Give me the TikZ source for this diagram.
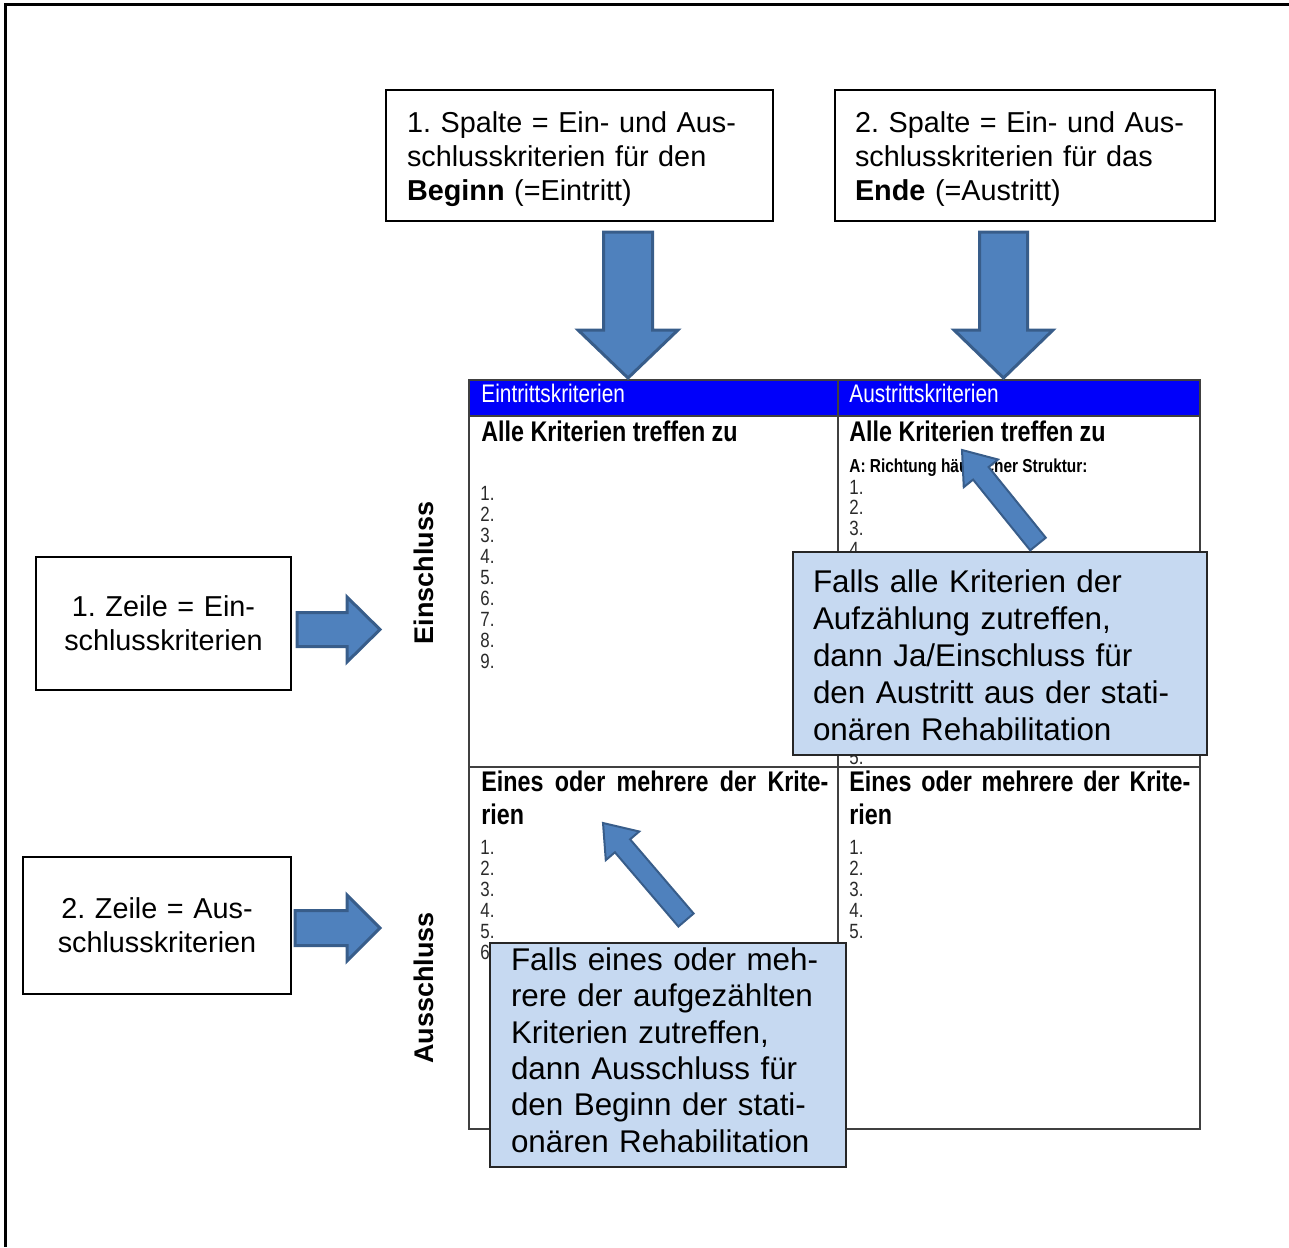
\documentclass[tikz,border=0pt]{standalone}
\usepackage{fontspec}
\setmainfont{Liberation Sans}
\newfontfamily\narrowfont[FakeStretch=0.82]{Liberation Sans}
\usetikzlibrary{calc,positioning}
\frenchspacing

\definecolor{arrowblue}{HTML}{4F81BD}
\definecolor{arrowedge}{HTML}{385D8A}
\definecolor{calloutblue}{HTML}{C6D9F1}
\definecolor{headblue}{HTML}{0000FA}
\definecolor{gridgray}{HTML}{404040}
\definecolor{numgray}{HTML}{2A2A2A}

\tikzset{
  infobox/.style={rectangle, draw, line width=1pt, inner ysep=0pt,
    font=\fontsize{14.4}{17}\selectfont},
  callout/.style={rectangle, draw=black!85, fill=calloutblue, line width=1pt,
    align=left, inner ysep=0pt, font=\fontsize{15.7}{18.4}\selectfont},
  fatarrow/.style={fill=arrowblue, draw=arrowedge, line width=1.5pt, line join=miter},
  grid/.style={draw=gridgray, line width=1pt},
  hdrtext/.style={anchor=base west, inner sep=0pt, text=white,
    font=\narrowfont\fontsize{12.7}{14}\selectfont},
  celltitle/.style={anchor=base west, inner sep=0pt,
    font=\narrowfont\bfseries\fontsize{14.2}{16}\selectfont},
  subtitle/.style={anchor=base west, inner sep=0pt,
    font=\narrowfont\bfseries\fontsize{9.4}{11}\selectfont},
  itemno/.style={anchor=base west, inner sep=0pt, text=numgray,
    font=\narrowfont\fontsize{10.3}{11}\selectfont},
  sidelabel/.style={rotate=90, inner sep=0pt, font=\bfseries\fontsize{13.5}{16}\selectfont}
}

% block arrow: tail, tip, shaft half width, head half width, head length
\newcommand{\fatarrow}[6][]{%
  \coordinate (fa-n) at ($(#3)!#6!(#2)$);
  \draw[fatarrow,#1] ($(#2)!#4!90:(#3)$) -- ($(fa-n)!#4!-90:(#2)$)
    -- ($(fa-n)!#5!-90:(#2)$) -- (#3) -- ($(fa-n)!#5!90:(#2)$)
    -- ($(fa-n)!#4!90:(#2)$) -- ($(#2)!#4!-90:(#3)$) -- cycle;}

\begin{document}
\begin{tikzpicture}[x=0.5pt, y=-0.5pt]
  \useasboundingbox (0,0) rectangle (1289,1247);
  % outer frame
  \draw[line width=1.5pt] (1289,5) -- (5,5) -- (5,1247);

  % table
  \fill[headblue] (469,380) rectangle (1200,416);
  \draw[grid] (469,380) rectangle (1200,1129);
  \draw[grid] (838,380) -- (838,1129);
  \draw[grid] (469,416) -- (1200,416);
  \draw[grid] (469,767) -- (1200,767);

  \node[hdrtext] (hdrEin) at (481,402) {Eintrittskriterien};
  \node[hdrtext] (hdrAus) at (849,402) {Austrittskriterien};
  \node[celltitle] (allEin) at (481,441) {Alle Kriterien treffen zu};
  \node[celltitle] (allAus) at (849,441) {Alle Kriterien treffen zu};
  \node[subtitle] (richtung) at (849,472) {A: Richtung häuslicher Struktur:};
  \node[celltitle] (einesEin) at (481,791) {\makebox[173.5pt][s]{Eines oder mehrere der Krite-}};
  \node[celltitle] (rienEin) at (481,824) {rien};
  \node[celltitle] (einesAus) at (849,791) {\makebox[170.5pt][s]{Eines oder mehrere der Krite-}};
  \node[celltitle] (rienAus) at (849,824) {rien};

  \foreach \i in {1,...,9}
    \node[itemno] (eL\i) at (480,{500+21.1*(\i-1)}) {\i.};
  \foreach \i in {1,...,4}
    \node[itemno] (aL\i) at (849,{494+20.7*(\i-1)}) {\i.};
  \node[itemno] (aL5) at (849,764) {5.};
  \foreach \i in {1,...,6}
    \node[itemno] (eX\i) at (480,{854+21.1*(\i-1)}) {\i.};
  \foreach \i in {1,...,5}
    \node[itemno] (aX\i) at (849,{854+21.1*(\i-1)}) {\i.};

  \node[sidelabel] (einschl) at (424,573) {Einschluss};
  \node[sidelabel] (ausschl) at (424,988) {Ausschluss};

  % info boxes
  \node[infobox, align=left, text width=172.5pt, inner xsep=10.5pt, minimum height=65.5pt]
    (spalte1) at (579.5,155.5) {\rule{0pt}{14.1pt}1. Spalte = Ein- und Aus-\\schlusskriterien für den\\\textbf{Beginn} (=Eintritt)};
  \node[infobox, align=left, text width=170pt, inner xsep=10pt, minimum height=65.5pt]
    (spalte2) at (1025,155.5) {\rule{0pt}{14.1pt}2. Spalte = Ein- und Aus-\\schlusskriterien für das\\\textbf{Ende} (=Austritt)};
  \node[infobox, align=center, text width=117.5pt, inner xsep=5pt, minimum height=66.5pt]
    (zeile1) at (163.5,623.5) {1. Zeile = Ein-\\schlusskriterien};
  \node[infobox, align=center, text width=124pt, inner xsep=5pt, minimum height=68.5pt]
    (zeile2) at (157,925.5) {2. Zeile = Aus-\\schlusskriterien};

  % block arrows
  \coordinate (d1a) at (628,232); \coordinate (d1b) at (628,378);
  \coordinate (d2a) at (1003.5,232); \coordinate (d2b) at (1003.5,378);
  \coordinate (r1a) at (297,629.5); \coordinate (r1b) at (380,629.5);
  \coordinate (r2a) at (295,928); \coordinate (r2b) at (380,928);
  \fatarrow{d1a}{d1b}{12.25pt}{25pt}{24pt}
  \fatarrow{d2a}{d2b}{12pt}{24.75pt}{24pt}
  \fatarrow{r1a}{r1b}{8.5pt}{16.25pt}{16.5pt}
  \fatarrow{r2a}{r2b}{8.75pt}{16.5pt}{16.5pt}

  % callouts
  \node[callout, text width=187pt, inner xsep=10pt, minimum height=101.5pt,
    font=\fontsize{15.7}{18.5}\selectfont]
    (callA) at (1000,653.5) {\rule{0pt}{13pt}Falls alle Kriterien der\\Aufzählung zutreffen,\\dann Ja/Einschluss für\\den Austritt aus der stati-\\onären Rehabilitation};
  \node[callout, text width=157pt, inner xsep=10.5pt, minimum height=112pt,
    font=\fontsize{15.7}{18.2}\selectfont]
    (callB) at (668,1055) {Falls eines oder meh-\\rere der aufgezählten\\Kriterien zutreffen,\\dann Ausschluss für\\den Beginn der stati-\\onären Rehabilitation\rule[-5pt]{0pt}{5pt}};

  \coordinate (gA1) at (1038,544); \coordinate (gA2) at (962,450);
  \coordinate (gB1) at (686,920); \coordinate (gB2) at (603,823);
  \fatarrow[line width=1pt]{gA1}{gA2}{5pt}{11pt}{15pt}
  \fatarrow[line width=1pt]{gB1}{gB2}{5pt}{11pt}{15pt}
\end{tikzpicture}
\end{document}
